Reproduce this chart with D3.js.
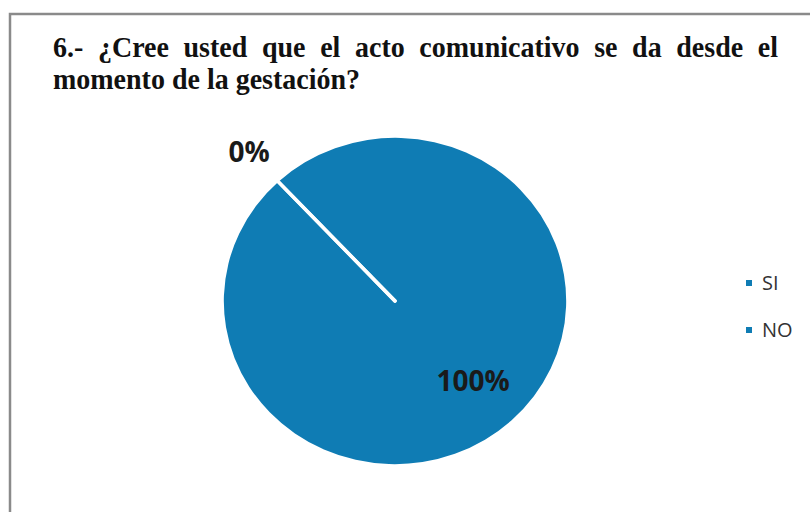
<!DOCTYPE html>
<html>
<head>
<meta charset="utf-8">
<script src="https://cdn.jsdelivr.net/npm/d3@7"></script>
<style>
  body { margin: 0; background: #fff; }
</style>
</head>
<body>
<script>
//chart data
var categories = ["SI", "NO"];
var values = [0, 100];
var labels = ["0%", "100%"];
var titleLines = ["6.- ¿Cree usted que el acto comunicativo se da desde el",
                  "momento de la gestación?"];

//size of the page
var width = 810,
    height = 512;

var svg = d3.select("body").append("svg")
    .attr("width", width)
    .attr("height", height);

svg.append("rect")
    .attr("width", width)
    .attr("height", height)
    .style("fill", "#fff");

//frame of the chart (runs past the right and bottom edges)
svg.append("rect")
    .attr("x", 10)
    .attr("y", 14)
    .attr("width", 900)
    .attr("height", 600)
    .style("fill", "none")
    .style("stroke", "#8a8a8a")
    .style("stroke-width", 2.5);

//title, justified on the first line
var title = svg.append("g");
titleLines.forEach(function(line, i) {
    var t = title.append("text")
        .attr("transform", "translate(53," + (57 + i * 32) + ") scale(1,1.08)")
        .style("font-family", "'Liberation Serif', 'Times New Roman', serif")
        .style("font-weight", "bold")
        .style("font-size", "28px")
        .style("fill", "#111")
        .text(line);
    if (i === 0) {
        var natural = t.node().getComputedTextLength();
        var gaps = line.split(" ").length - 1;
        t.attr("word-spacing", (725 - natural) / gaps);
    }
});

//pie
var color = d3.scaleOrdinal()
    .domain(categories)
    .range(["#0f7cb4", "#0f7cb4"]);

var cx = 395, cy = 301,
    radius = 171,
    squash = 163 / 171;

var startAngle = -43 * Math.PI / 180;

var pie = d3.pie()
    .sort(null)
    .value(function(d) { return d.value; })
    .startAngle(startAngle)
    .endAngle(startAngle + 2 * Math.PI);

var data = categories.map(function(c, i) {
    return { name: c, value: values[i], label: labels[i] };
});
var arcs = pie(data);

var arc = d3.arc().innerRadius(0).outerRadius(radius);
var insideArc = d3.arc().innerRadius(radius * 0.67).outerRadius(radius * 0.67);
var outsideArc = d3.arc().innerRadius(radius * 1.25).outerRadius(radius * 1.25);

var pieG = svg.append("g")
    .attr("transform", "translate(" + cx + "," + cy + ") scale(1," + squash + ")");

pieG.selectAll("path")
    .data(arcs)
    .enter().append("path")
    .attr("d", arc)
    .style("fill", function(d) { return color(d.data.name); });

//white borders between slices (one line per slice start)
pieG.selectAll("line.edge")
    .data(arcs)
    .enter().append("line")
    .attr("class", "edge")
    .attr("x1", 0)
    .attr("y1", 0)
    .attr("x2", function(d) { return d3.pointRadial(d.startAngle, radius + 1)[0]; })
    .attr("y2", function(d) { return d3.pointRadial(d.startAngle, radius + 1)[1]; })
    .style("stroke", "#fff")
    .style("stroke-width", 3.5)
    .style("stroke-linecap", "round");

//percentage labels
svg.selectAll("text.pct")
    .data(arcs)
    .enter().append("text")
    .attr("class", "pct")
    .attr("transform", function(d) {
        var p = d.value === 0 ? outsideArc.centroid(d) : insideArc.centroid(d);
        return "translate(" + (cx + p[0]) + "," + (cy + p[1] * squash) + ")";
    })
    .attr("text-anchor", "middle")
    .attr("dy", "0.36em")
    .style("font-family", "'Open Sans', sans-serif")
    .style("font-weight", "bold")
    .style("font-size", "28px")
    .style("fill", "#1a1a1a")
    .text(function(d) { return d.data.label; });

//legend
var legend = svg.selectAll("g.legend")
    .data(categories)
    .enter().append("g")
    .attr("class", "legend")
    .attr("transform", function(d, i) { return "translate(746," + (283 + i * 47) + ")"; });

legend.append("rect")
    .attr("x", 0)
    .attr("y", -3)
    .attr("width", 6)
    .attr("height", 6)
    .style("fill", function(d) { return color(d); });

legend.append("text")
    .attr("x", 16)
    .attr("dy", "0.36em")
    .style("font-family", "'Open Sans', sans-serif")
    .style("font-size", "20px")
    .style("fill", "#333")
    .text(function(d) { return d; });
</script>
</body>
</html>
